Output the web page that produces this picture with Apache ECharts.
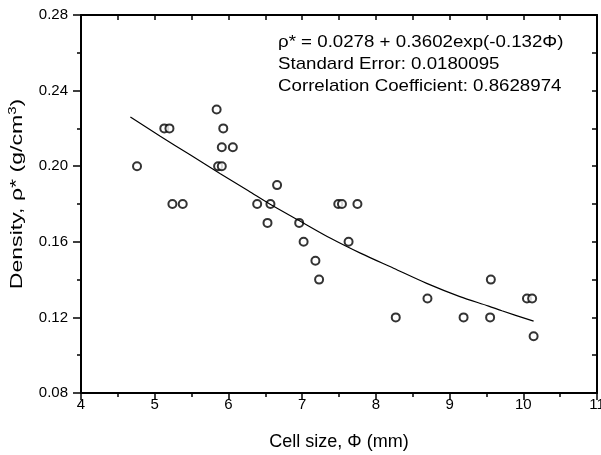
<!DOCTYPE html>
<html>
<head>
<meta charset="utf-8">
<script src="https://cdn.jsdelivr.net/npm/echarts@6/dist/echarts.min.js"></script>
<style>
html,body{margin:0;padding:0;background:#fff;}
#chart{width:601px;height:455px;}
</style>
</head>
<body>
<div id="chart"></div>
<script>
// Measured points: cell size (mm) and density (g/cm3)
var cellSize = [5.84, 5.13, 5.20, 5.93, 5.91, 6.06, 4.76, 5.86, 5.91, 6.66,
                5.24, 5.38, 6.39, 6.57, 6.53, 6.96, 7.02, 7.18, 7.23,
                7.49, 7.54, 7.75, 7.63, 8.27, 8.70, 9.19, 9.56, 9.55, 10.05, 10.12, 10.14];
var density  = [0.23, 0.22, 0.22, 0.22, 0.21, 0.21, 0.20, 0.20, 0.20, 0.19,
                0.18, 0.18, 0.18, 0.18, 0.17, 0.17, 0.16, 0.15, 0.14,
                0.18, 0.18, 0.18, 0.16, 0.12, 0.13, 0.12, 0.14, 0.12, 0.13, 0.13, 0.11];

// Fitted curve
var fitX = [4.67, 5.07, 5.48, 5.89, 6.27, 6.56, 6.97, 7.38, 7.79, 8.24, 8.69, 9.14, 9.53, 9.71, 10.14];
var fitY = [0.226, 0.216, 0.206, 0.196, 0.187, 0.180, 0.171, 0.162, 0.154, 0.146, 0.138, 0.131, 0.126, 0.1235, 0.118];

var annotationLines = [
  'ρ* = 0.0278 + 0.3602exp(-0.132Φ)',
  'Standard Error: 0.0180095',
  'Correlation Coefficient: 0.8628974'
];

var xTitle = 'Cell size, Φ (mm)';
var yTitleRich = '{t|Density, ρ* (g/cm}{s|3}{t|)}';

var chart = echarts.init(document.getElementById('chart'), null, {renderer: 'canvas'});

var FONT = '"Liberation Sans", Arial, sans-serif';

var scatterData = cellSize.map(function (x, i) { return [x, density[i]]; });
var fitData = fitX.map(function (x, i) { return [x, fitY[i]]; });

var graphics = annotationLines.map(function (s, i) {
  return {
    type: 'text', x: 278, y: 34 + i * 22, scaleX: 1.1, scaleY: 1,
    style: {text: s, fontSize: 17, fontFamily: FONT, fill: '#000', textAlign: 'left', textVerticalAlign: 'top'}
  };
});
graphics.push({
  type: 'text', x: 17, y: 194, rotation: Math.PI / 2, scaleX: 1.36, scaleY: 1,
  style: {
    text: yTitleRich, fontFamily: FONT, fontSize: 17, fill: '#000',
    textAlign: 'center', textVerticalAlign: 'middle',
    rich: {
      t: {fontSize: 17, fontFamily: FONT, fill: '#000'},
      s: {fontSize: 11, fontFamily: FONT, fill: '#000', verticalAlign: 'top', padding: [0, 0, 9, 0]}
    }
  }
});

var option = {
  backgroundColor: '#fff',
  animation: false,
  textStyle: {fontFamily: FONT, color: '#000'},
  grid: {left: 81, right: 4, top: 15, bottom: 62, containLabel: false, outerBoundsMode: 'none'},
  xAxis: [{
    type: 'value', min: 4, max: 11, interval: 1, position: 'bottom',
    name: xTitle, nameLocation: 'middle', nameGap: 40,
    nameTextStyle: {fontSize: 18, fontFamily: FONT, color: '#000'},
    axisLine: {show: true, onZero: false, lineStyle: {color: '#000', width: 2}},
    axisTick: {show: true, inside: false, length: 7, lineStyle: {color: '#000', width: 1.5}},
    minorTick: {show: true, splitNumber: 2, length: 4, lineStyle: {color: '#000', width: 1.5}},
    axisLabel: {fontSize: 15, fontFamily: FONT, color: '#000', margin: 4},
    splitLine: {show: false}
  }, {
    type: 'value', min: 4, max: 11, interval: 0.5, position: 'top',
    axisLine: {show: true, onZero: false, lineStyle: {color: '#000', width: 2}},
    axisTick: {show: true, inside: true, length: 5, lineStyle: {color: '#000', width: 1.5}},
    axisLabel: {show: false},
    splitLine: {show: false}
  }],
  yAxis: [{
    type: 'value', min: 0.08, max: 0.28, interval: 0.04, position: 'left',
    axisLine: {show: true, onZero: false, lineStyle: {color: '#000', width: 2}},
    axisTick: {show: true, inside: false, length: 8, lineStyle: {color: '#000', width: 1.5}},
    minorTick: {show: true, splitNumber: 2, length: 4, lineStyle: {color: '#000', width: 1.5}},
    axisLabel: {fontSize: 15, fontFamily: FONT, color: '#000', margin: 13,
      formatter: function (v) { return v.toFixed(2); }},
    splitLine: {show: false}
  }, {
    type: 'value', min: 0.08, max: 0.28, interval: 0.02, position: 'right',
    axisLine: {show: true, onZero: false, lineStyle: {color: '#000', width: 2}},
    axisTick: {show: true, inside: true, length: 5, lineStyle: {color: '#000', width: 1.5}},
    axisLabel: {show: false},
    splitLine: {show: false}
  }],
  series: [{
    type: 'scatter', xAxisIndex: 0, yAxisIndex: 0,
    data: scatterData,
    symbol: 'emptyCircle', symbolSize: 8,
    itemStyle: {color: '#000', borderColor: '#000', borderWidth: 1.2}
  }, {
    type: 'line', xAxisIndex: 0, yAxisIndex: 0,
    data: fitData, smooth: 0.3, showSymbol: false,
    lineStyle: {color: '#000', width: 1.2}
  }],
  graphic: graphics
};

chart.setOption(option);
</script>
</body>
</html>
